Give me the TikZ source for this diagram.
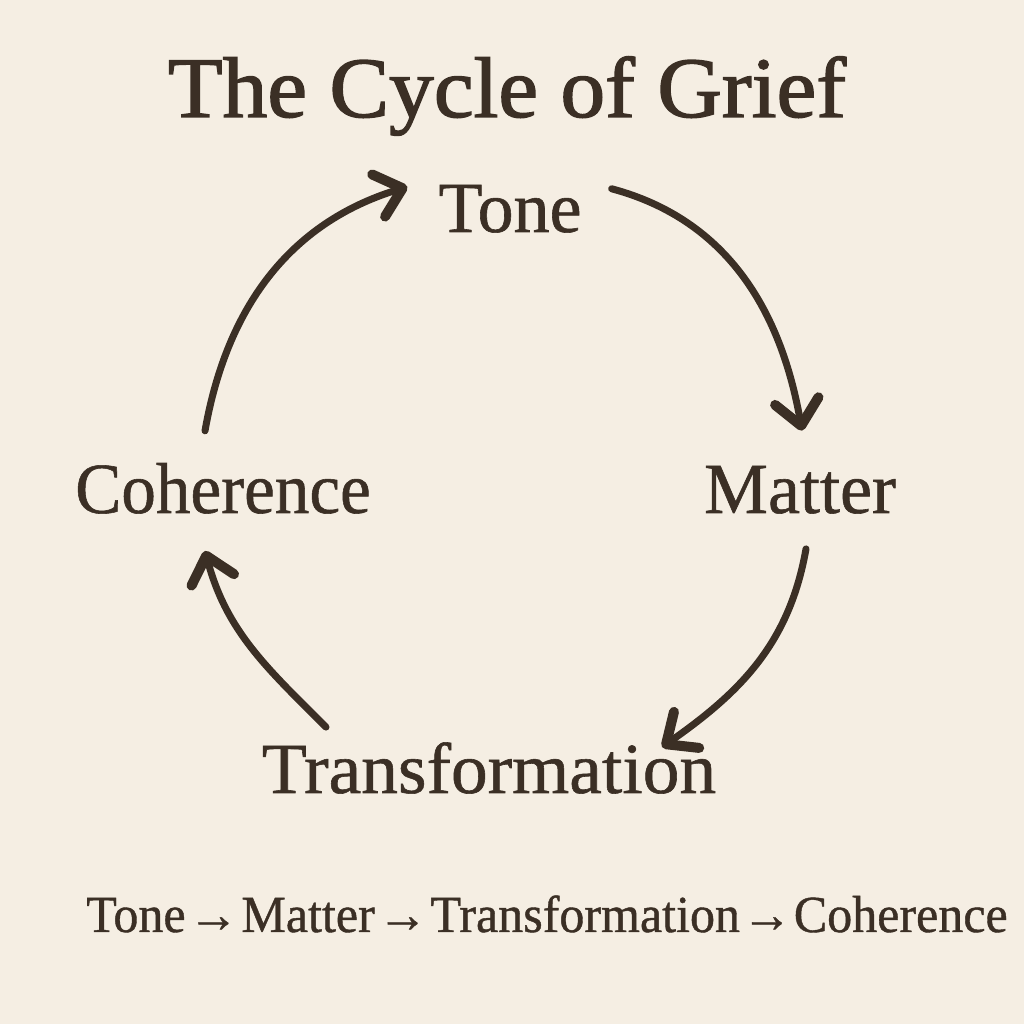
\documentclass[tikz,border=0pt]{standalone}
\usepackage{fontspec}
\setmainfont{Liberation Serif}
\newfontfamily\titlefont[FakeBold=1.6]{Liberation Serif}
\newfontfamily\labelfont[FakeBold=0.8]{Liberation Serif}
\usetikzlibrary{arrows.meta,calc}
\definecolor{bg}{HTML}{F5EEE3}
\definecolor{ink}{HTML}{3B2F25}
\tikzset{
  label/.style={text=ink, inner sep=0pt, anchor=base, font=\labelfont\fontsize{72}{80}\selectfont},
  cyc/.style={draw=ink, line width=7pt, line cap=round,
    -{Straight Barb[round, length=25pt, width=44pt, line width=3pt 1]}},
}
\begin{document}
\begin{tikzpicture}[x=1pt,y=1pt]
\fill[bg] (0,0) rectangle (1024,1024);
\useasboundingbox (0,0) rectangle (1024,1024);
\node[label, font=\titlefont\fontsize{86}{92}\selectfont] (title) at (507,907) {\scalebox{1.04}[1.0]{The Cycle of Grief}};
\node[label] (tone) at (510,792) {Tone};
\node[label] (matter) at (800,511) {Matter};
\node[label] (coh) at (223,511) {\scalebox{0.96}[1]{Coherence}};
\node[label] (trans) at (489,231) {\scalebox{1.02}[1]{Transformation}};
\node[label, font=\labelfont\fontsize{52}{56}\selectfont] (seq) at (547,92) {\scalebox{0.962}[1]{Tone\kern3pt→\kern3ptMatter\kern3pt→\kern3ptTransformation\kern2pt→\kern2ptCoherence}};
\draw[cyc] ($(coh.north)+(-18,32)$) to[out=80,in=197] ($(tone.west)+(-31,22)$);
\draw[cyc] ($(tone.east)+(30,20)$) to[out=-15,in=100] ($(matter.north)+(2,35)$);
\draw[cyc] ($(matter.south)+(6,-35)$) to[out=260,in=35] ($(trans.north)+(173,-5)$);
\draw[cyc] ($(trans.north)+(-163,15)$) to[out=135,in=285] ($(coh.south)+(-18,-37)$);
\end{tikzpicture}
\end{document}
